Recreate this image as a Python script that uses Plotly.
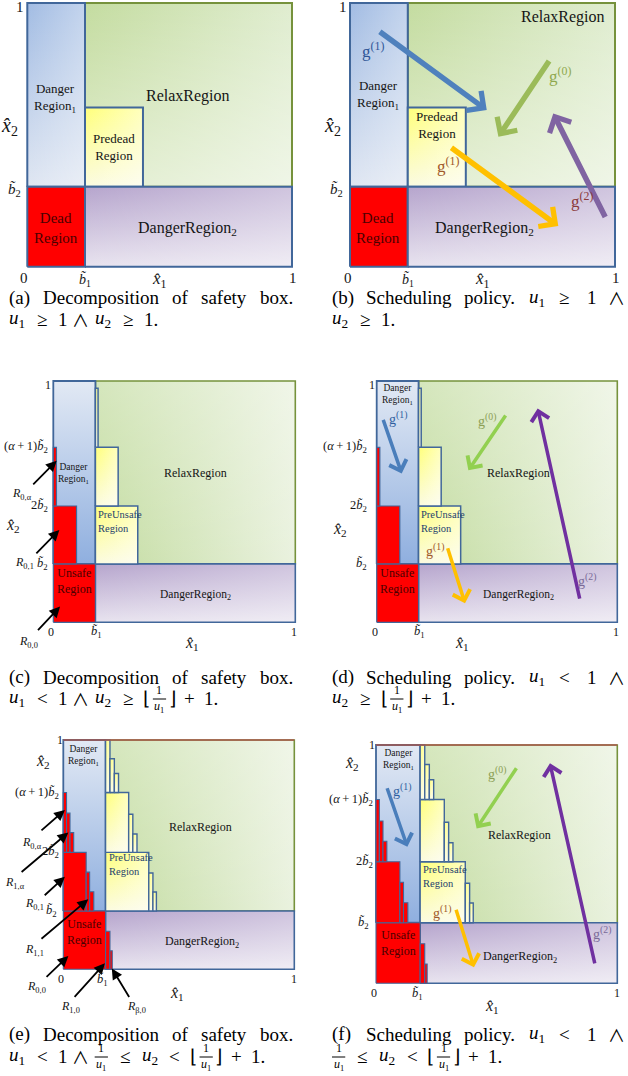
import plotly.graph_objects as go

W, H = 628, 1076
SERIF = "Liberation Serif"

# ---------------- region geometry (normalized safety-box coordinates) ----------------
# panels (a),(b)
AB_B1 = 0.218
AB_B2 = 0.303
AB_PRE_X1 = 0.437
AB_PRE_Y1 = 0.604

# panels (c),(d)
CD_B1 = 0.174
CD_B2 = 0.242
CD_RED_X1 = [0.174, 0.096, 0.013]
CD_RED_Y0 = [0.0, 0.242, 0.482]
CD_RED_Y1 = [0.242, 0.482, 0.725]
CD_YEL_X1 = [0.349, 0.268, 0.185]
CD_YEL_Y0 = [0.242, 0.482, 0.725]
CD_YEL_Y1 = [0.482, 0.725, 0.970]
CD_TICK_Y = [0.242, 0.482, 0.725]

# panels (e),(f)
EF_B1 = 0.183
EF_B2 = 0.254
EF_RED_X0 = [0.0, 0.183, 0.202, 0.0, 0.099, 0.114, 0.0, 0.014, 0.029]
EF_RED_X1 = [0.183, 0.202, 0.212, 0.099, 0.114, 0.132, 0.014, 0.029, 0.045]
EF_RED_Y0 = [0.0, 0.0, 0.0, 0.254, 0.254, 0.254, 0.51, 0.51, 0.51]
EF_RED_Y1 = [0.254, 0.166, 0.081, 0.51, 0.424, 0.338, 0.771, 0.681, 0.596]
EF_YEL_X0 = [0.183, 0.370, 0.388, 0.183, 0.283, 0.301, 0.183, 0.202, 0.221]
EF_YEL_X1 = [0.370, 0.388, 0.403, 0.283, 0.301, 0.319, 0.202, 0.221, 0.239]
EF_YEL_Y0 = [0.254, 0.254, 0.254, 0.51, 0.51, 0.51, 0.771, 0.771, 0.771]
EF_YEL_Y1 = [0.51, 0.42, 0.337, 0.771, 0.676, 0.59, 1.0, 0.918, 0.854]
EF_TICK_Y = [0.254, 0.51, 0.771]

# scheduling arrows, order: g(1) blue, g(0) green, g(2) purple, g(1) yellow
B_ARR_X0 = [0.107, 0.755, 0.966, 0.377]
B_ARR_Y0 = [0.895, 0.786, 0.183, 0.455]
B_ARR_X1 = [0.516, 0.560, 0.767, 0.786]
B_ARR_Y1 = [0.594, 0.493, 0.581, 0.154]
D_ARR_X0 = [0.025, 0.540, 0.845, 0.293]
D_ARR_Y0 = [0.845, 0.863, 0.092, 0.313]
D_ARR_X1 = [0.104, 0.381, 0.669, 0.367]
D_ARR_Y1 = [0.617, 0.630, 0.886, 0.079]
F_ARR_X0 = [0.044, 0.586, 0.908, 0.330]
F_ARR_Y0 = [0.825, 0.909, 0.077, 0.315]
F_ARR_X1 = [0.130, 0.417, 0.721, 0.406]
F_ARR_Y1 = [0.573, 0.650, 0.923, 0.067]

# pointer arrows to the R_{i,j} sub-regions
C_PTR_NAMES = ['0,α', '0,1', '0,0']
C_PTR_X0 = [-0.089, -0.076, -0.069]
C_PTR_Y0 = [0.565, 0.279, -0.039]
C_PTR_X1 = [0.014, 0.025, 0.028]
C_PTR_Y1 = [0.670, 0.383, 0.065]
E_PTR_NAMES = ['0,α', '1,α', '0,1', '1,1', '0,0', '1,0', 'β,0']
E_PTR_X0 = [-0.101, -0.187, -0.087, -0.101, -0.079, 0.043, 0.289]
E_PTR_Y0 = [0.600, 0.419, 0.317, 0.128, -0.039, -0.127, -0.127]
E_PTR_X1 = [0.007, 0.022, 0.007, 0.108, 0.022, 0.180, 0.210]
E_PTR_Y1 = [0.695, 0.597, 0.404, 0.305, 0.058, 0.026, 0.004]

# ---------------- layout helpers ----------------
# unit-square box of each panel in page pixels (left, right, top, bottom)
PANEL_PX = {1: (27.3, 292.0, 3.0, 266.7), 2: (350.0, 615.0, 3.0, 266.7),
            3: (53.3, 295.3, 381.0, 622.3), 4: (376.7, 617.3, 381.0, 622.3),
            5: (63.3, 294.3, 740.0, 969.3), 6: (376.0, 617.3, 745.0, 983.3)}
# visible area of each subplot in page pixels (left, right, top, bottom)
PANEL_VIEW = {1: (0, 312, 0, 292), 2: (318, 628, 0, 292),
              3: (0, 312, 368, 662), 4: (318, 628, 368, 662),
              5: (0, 312, 726, 1022), 6: (318, 628, 726, 1022)}

fig = go.Figure()
layout = dict(width=W, height=H, autosize=False, margin=dict(l=0, r=0, t=0, b=0, pad=0),
              paper_bgcolor='white', plot_bgcolor='rgba(0,0,0,0)', showlegend=False)
for k, (L, R, T, B) in PANEL_PX.items():
    vl, vr, vt, vb = PANEL_VIEW[k]
    w, h = R - L, B - T
    sx = '' if k == 1 else str(k)
    layout['xaxis' + sx] = dict(domain=[vl / W, vr / W], range=[(vl - L) / w, (vr - L) / w],
                                visible=False, fixedrange=True, anchor='y' + sx)
    layout['yaxis' + sx] = dict(domain=[1 - vb / H, 1 - vt / H], range=[(B - vb) / h, (B - vt) / h],
                                visible=False, fixedrange=True, anchor='x' + sx)
fig.update_layout(**layout)

annotations = []
shapes = []


def ids(k):
    s = '' if k == 1 else str(k)
    return 'x' + s, 'y' + s


def rect(k, x0, x1, y0, y1, fills, line_color=None, line_width=0.0):
    xa, ya = ids(k)
    xs = [x0, x1, x1, x0, x0]
    ys = [y0, y0, y1, y1, y0]
    for f in fills:
        kw = dict(x=xs, y=ys, xaxis=xa, yaxis=ya, mode='none', fill='toself',
                  hoverinfo='skip', showlegend=False)
        if isinstance(f, str):
            kw['fillcolor'] = f
        else:
            kw['fillgradient'] = dict(type=f[0], colorscale=[[0, f[1]], [1, f[2]]])
        fig.add_trace(go.Scatter(**kw))
    if line_color:
        fig.add_trace(go.Scatter(x=xs, y=ys, xaxis=xa, yaxis=ya, mode='lines',
                                 line=dict(color=line_color, width=line_width),
                                 hoverinfo='skip', showlegend=False))


def hline(k, x0, x1, y, color, width):
    xa, ya = ids(k)
    fig.add_trace(go.Scatter(x=[x0, x1], y=[y, y], xaxis=xa, yaxis=ya, mode='lines',
                             line=dict(color=color, width=width), hoverinfo='skip', showlegend=False))


def label(k, x, y, text, size, color='#151515', xanchor='center', align='center'):
    xa, ya = ids(k)
    annotations.append(dict(x=x, y=y, xref=xa, yref=ya, text=text, showarrow=False,
                            xanchor=xanchor, yanchor='middle', align=align,
                            font=dict(family=SERIF, size=size, color=color)))


def arrow(k, x0, y0, x1, y1, color, width, head=4, size=1.0):
    xa, ya = ids(k)
    annotations.append(dict(x=x1, y=y1, ax=x0, ay=y0, xref=xa, yref=ya, axref=xa, ayref=ya,
                            text='', showarrow=True, arrowhead=head, arrowsize=size,
                            arrowwidth=width, arrowcolor=color, standoff=0))


BLUE_LINE = '#41679a'
OLIVE_LINE = '#76923c'
D1_AB = [('vertical', '#dfe6f2', '#a2bce3'), ('horizontal', 'rgba(255,255,255,0)', 'rgba(255,255,255,0.35)')]
D1_CF = [('vertical', '#8fafdf', '#e2e9f4')]
RELAX_AB = [('horizontal', '#c4dca0', '#e0edd0'), ('vertical', 'rgba(255,255,255,0.5)', 'rgba(255,255,255,0)')]
RELAX_CF = [('horizontal', '#c3dca0', '#eaf2df'), ('vertical', 'rgba(255,255,255,0)', 'rgba(255,255,255,0.3)')]
D2 = [('vertical', '#e8e3ef', '#b6a5cd'), ('horizontal', 'rgba(255,255,255,0)', 'rgba(255,255,255,0.35)')]
YEL = [('vertical', '#fbfbe0', '#ffff7a'), ('horizontal', 'rgba(255,255,255,0)', 'rgba(255,255,255,0.5)')]
RED = ['#ff0000']
DEAD_TXT = '#4a0000'
PRE_TXT = '#253f6e'

BT1 = '<i>b\u0303</i><sub>1</sub>'
BT2 = '<i>b\u0303</i><sub>2</sub>'
X1H = '<i>x\u0302</i><sub>1</sub>'
X2H = '<i>x\u0302</i><sub>2</sub>'
ALPHA_B2 = '(<i>α</i>\u2009+\u20091)<i>b\u0303</i><sub>2</sub>'
TWO_B2 = '2<i>b\u0303</i><sub>2</sub>'
DANGER1 = 'Danger<br>Region<sub>1</sub>'
DANGER2 = 'DangerRegion<sub>2</sub>'


def g(n):
    return 'g<sup>(%d)</sup>' % n


# ---------------- panels (a),(b) ----------------
def draw_ab(k):
    rect(k, AB_B1, 1, AB_B2, 1, RELAX_AB, OLIVE_LINE, 2)
    rect(k, 0, AB_B1, AB_B2, 1, D1_AB, BLUE_LINE, 2)
    rect(k, AB_B1, AB_PRE_X1, AB_B2, AB_PRE_Y1, YEL, BLUE_LINE, 2)
    rect(k, 0, AB_B1, 0, AB_B2, RED, BLUE_LINE, 2)
    rect(k, AB_B1, 1, 0, AB_B2, D2, BLUE_LINE, 2)


draw_ab(1)
draw_ab(2)


# ---------------- panels (c),(d) ----------------
def draw_cd(k):
    rect(k, CD_B1, 1, CD_B2, 1, RELAX_CF, OLIVE_LINE, 1.6)
    rect(k, 0, CD_B1, CD_B2, 1, D1_CF, BLUE_LINE, 1.8)
    rect(k, CD_B1, 1, 0, CD_B2, D2, BLUE_LINE, 1.6)
    for x1, y0, y1 in zip(CD_YEL_X1, CD_YEL_Y0, CD_YEL_Y1):
        rect(k, CD_B1, x1, y0, y1, YEL, BLUE_LINE, 1.5)
    for x1, y0, y1 in zip(CD_RED_X1, CD_RED_Y0, CD_RED_Y1):
        rect(k, 0, x1, y0, y1, RED, BLUE_LINE, 1.2)


draw_cd(3)
draw_cd(4)


# ---------------- panels (e),(f) ----------------
def draw_ef(k):
    rect(k, EF_B1, 1, EF_B2, 1, RELAX_CF, OLIVE_LINE, 1.6)
    rect(k, 0, EF_B1, EF_B2, 1, D1_CF, BLUE_LINE, 1.8)
    rect(k, EF_B1, 1, 0, EF_B2, D2, BLUE_LINE, 1.6)
    for x0, x1, y0, y1 in zip(EF_YEL_X0, EF_YEL_X1, EF_YEL_Y0, EF_YEL_Y1):
        rect(k, x0, x1, y0, y1, YEL, BLUE_LINE, 1.4)
    for x0, x1, y0, y1 in zip(EF_RED_X0, EF_RED_X1, EF_RED_Y0, EF_RED_Y1):
        rect(k, x0, x1, y0, y1, RED, BLUE_LINE, 1.1)
    hline(k, 0, 1, 1, '#a8584c', 1.6)


draw_ef(5)
draw_ef(6)

# ---------------- texts in (a) ----------------
label(1, 0.105, 0.64, DANGER1, 13)
label(1, 0.607, 0.648, 'RelaxRegion', 16)
label(1, 0.328, 0.454, 'Predead<br>Region', 13)
label(1, 0.108, 0.147, 'Dead<br>Region', 15, DEAD_TXT)
label(1, 0.607, 0.143, DANGER2, 16)
# texts in (b)
label(2, 0.805, 0.948, 'RelaxRegion', 16)
label(2, 0.107, 0.651, DANGER1, 13)
label(2, 0.327, 0.537, 'Predead<br>Region', 13)
label(2, 0.107, 0.147, 'Dead<br>Region', 15, DEAD_TXT)
label(2, 0.509, 0.143, DANGER2, 16)

ARR_B_COL = ['#4f81bd', '#9bbb59', '#8064a2', '#ffc000']
ARR_DF_COL = ['#4a7ebb', '#92d050', '#7030a0', '#ffc000']
for x0, y0, x1, y1, c in zip(B_ARR_X0, B_ARR_Y0, B_ARR_X1, B_ARR_Y1, ARR_B_COL):
    arrow(2, x0, y0, x1, y1, c, 5.5, 4, 0.85)
label(2, 0.088, 0.822, g(1), 17, '#2f5597')
label(2, 0.792, 0.727, g(0), 17, '#8fa84e')
label(2, 0.371, 0.386, g(1), 17, '#a0582a')
label(2, 0.874, 0.253, g(2), 17, '#8b3a3a')

# ticks (a),(b)
for k, dx in ((1, 0.0), (2, 0.003)):
    label(k, -0.028 + dx, 0.985, '1', 15)
    label(k, -0.05, 0.291, BT2, 15)
    label(k, -0.066, 0.53, X2H, 20)
    label(k, -0.012 + dx, -0.043, '0', 15)
    label(k, AB_B1, -0.052, BT1, 14)
    label(k, 0.501, -0.05, X1H, 17)
    label(k, 1.004, -0.043, '1', 15)

# ---------------- texts in (c),(d) ----------------
label(3, 0.085, 0.617, DANGER1, 9.5)
label(3, 0.588, 0.617, 'RelaxRegion', 12)
label(3, CD_B1 + 0.002, 0.417, 'PreUnsafe<br>Region', 10.5, PRE_TXT, 'left', 'left')
label(3, 0.086, 0.172, 'Unsafe<br>Region', 12, DEAD_TXT)
label(3, 0.586, 0.113, DANGER2, 11.5)
for x0, y0, x1, y1 in zip(C_PTR_X0, C_PTR_Y0, C_PTR_X1, C_PTR_Y1):
    arrow(3, x0, y0, x1, y1, 'black', 1.8, 2, 1.2)
for nm, (lx, ly) in zip(C_PTR_NAMES, [(-0.131, 0.53), (-0.117, 0.247), (-0.103, -0.08)]):
    label(3, lx, ly, '<i>R</i><sub>%s</sub>' % nm, 12)

label(4, 0.086, 0.946, DANGER1, 9.5)
label(4, 0.589, 0.617, 'RelaxRegion', 12)
label(4, CD_B1 + 0.002, 0.417, 'PreUnsafe<br>Region', 10.5, PRE_TXT, 'left', 'left')
label(4, 0.086, 0.172, 'Unsafe<br>Region', 12, DEAD_TXT)
label(4, 0.589, 0.113, DANGER2, 11.5)
for x0, y0, x1, y1, c in zip(D_ARR_X0, D_ARR_Y0, D_ARR_X1, D_ARR_Y1, ARR_DF_COL):
    arrow(4, x0, y0, x1, y1, c, 3.5, 4, 1.0)
label(4, 0.09, 0.845, g(1), 14, '#2f5fa0')
label(4, 0.457, 0.838, g(0), 14, '#8ca055')
label(4, 0.242, 0.30, g(1), 14, '#a0582a')
label(4, 0.873, 0.175, g(2), 14, '#7a6a98')

for k, xr in ((3, -0.012), (4, -0.03)):
    label(k, -0.021, 0.983, '1', 12)
    for t, y in zip([BT2, TWO_B2, ALPHA_B2], CD_TICK_Y):
        label(k, xr, y, t, 12.5, xanchor='right')
    label(k, -0.008, -0.04, '0', 12)
    label(k, CD_B1 + 0.003, -0.04, BT1, 12.5)
    label(k, 0.995, -0.04, '1', 12)
label(3, 0.572, -0.087, X1H, 16)
label(3, -0.165, 0.403, X2H, 16)
label(4, 0.353, -0.086, X1H, 16)
label(4, -0.153, 0.383, X2H, 16)

# ---------------- texts in (e),(f) ----------------
label(5, 0.087, 0.933, DANGER1, 9.5)
label(5, 0.592, 0.622, 'RelaxRegion', 12)
label(5, EF_B1 + 0.004, 0.455, 'PreUnsafe<br>Region', 10.5, PRE_TXT, 'left', 'left')
label(5, 0.09, 0.164, 'Unsafe<br>Region', 12, DEAD_TXT)
label(5, 0.599, 0.12, DANGER2, 12)
for x0, y0, x1, y1 in zip(E_PTR_X0, E_PTR_Y0, E_PTR_X1, E_PTR_Y1):
    arrow(5, x0, y0, x1, y1, 'black', 1.8, 2, 1.2)
E_LBL = [(-0.137, 0.549), (-0.209, 0.375), (-0.123, 0.284), (-0.123, 0.084),
         (-0.115, -0.076), (0.029, -0.163), (0.318, -0.163)]
for nm, (lx, ly) in zip(E_PTR_NAMES, E_LBL):
    label(5, lx, ly, '<i>R</i><sub>%s</sub>' % nm, 12)

label(6, 0.092, 0.94, DANGER1, 9.5)
label(6, 0.594, 0.622, 'RelaxRegion', 12)
label(6, EF_B1 + 0.004, 0.45, 'PreUnsafe<br>Region', 10.5, PRE_TXT, 'left', 'left')
label(6, 0.092, 0.168, 'Unsafe<br>Region', 12, DEAD_TXT)
label(6, 0.597, 0.112, DANGER2, 12)
for x0, y0, x1, y1, c in zip(F_ARR_X0, F_ARR_Y0, F_ARR_X1, F_ARR_Y1, ARR_DF_COL):
    arrow(6, x0, y0, x1, y1, c, 3.5, 4, 1.0)
label(6, 0.106, 0.811, g(1), 14, '#2f5fa0')
label(6, 0.50, 0.881, g(0), 14, '#8ca055')
label(6, 0.272, 0.30, g(1), 14, '#a0582a')
label(6, 0.935, 0.21, g(2), 14, '#7a6a98')

for k, xr in ((5, -0.01), (6, -0.006)):
    label(k, -0.016, 0.998, '1', 12)
    for t, y in zip([BT2, TWO_B2, ALPHA_B2], EF_TICK_Y):
        label(k, xr if t != BT2 else -0.02, y, t, 12.5, xanchor='right')
    label(k, -0.01, -0.041, '0', 12)
    label(k, EF_B1 - 0.012, -0.045, BT1, 12.5)
    label(k, 0.998, -0.041, '1', 12)
label(5, -0.087, 0.905, X2H, 16)
label(5, 0.491, -0.105, X1H, 16)
label(6, -0.1, 0.923, X2H, 16)
label(6, 0.479, -0.098, X1H, 16)

# ---------------- captions ----------------
CAP = 19
U1 = '<i>u</i><sub>1</sub>'
U2 = '<i>u</i><sub>2</sub>'
AND_FONT = "Noto Sans CJK JP"


def cap(x, y, html, size=CAP, anchor='left', family=SERIF):
    annotations.append(dict(xref='paper', yref='paper', x=x / W, y=1 - y / H, text=html,
                            showarrow=False, xanchor=anchor, yanchor='middle',
                            font=dict(family=family, size=size, color='black')))


def math_line(x, y, toks, s=1.0):
    for t, w in toks:
        w = w * s
        if t == 'FRAC':
            cx = x + w / 2
            cap(cx, y - 8, '1', 12, 'center')
            cap(cx, y + 9, U1, 12, 'center')
            shapes.append(dict(type='line', xref='paper', yref='paper', x0=(x + 2) / W,
                               x1=(x + w - 2) / W, y0=1 - (y + 1) / H, y1=1 - (y + 1) / H,
                               line=dict(color='black', width=1)))
        elif t == '∧':
            cap(x + w / 2, y, t, 17, 'center', AND_FONT)
        elif t is not None:
            cap(x + w / 2, y, t, CAP, 'center')
        x += w


TH, MD = 5.3, 4.2
LEFT_WORDS = ['Decomposition', 'of', 'safety', 'box.']
LEFT_X = [7, 41, 170, 199, 258]
RIGHT_X = [330, 364, 462, 527, 557, 585, 606]
ROWS = [(298, 319, 'a', 'b', '≥'), (677, 698, 'c', 'd', '<'), (1034, 1056, 'e', 'f', '<')]
for y1, y2, la, lb, rel in ROWS:
    for t, x in zip(['(%s)' % la] + LEFT_WORDS, LEFT_X):
        cap(x, y1, t)
    for t, x in zip(['(%s)' % lb, 'Scheduling', 'policy.', U1, rel, '1'], RIGHT_X):
        cap(x, y1, t)
    cap(RIGHT_X[-1], y1, '∧', 17, 'left', AND_FONT)

S = 1.15
A2 = [(U1, 18), (None, TH), ('≥', 15), (None, TH), ('1', 9.5), (None, MD), ('∧', 13), (None, MD),
      (U2, 18), (None, TH), ('≥', 15), (None, TH), ('1.', 14)]
B2 = [(U2, 18), (None, TH), ('≥', 15), (None, TH), ('1.', 14)]
FLOOR = [('⌊', 7), ('FRAC', 15), ('⌋', 7), (None, MD), ('+', 15), (None, MD), ('1.', 14)]
C2 = [(U1, 18), (None, TH), ('<', 15), (None, TH), ('1', 9.5), (None, MD), ('∧', 13), (None, MD),
      (U2, 18), (None, TH), ('≥', 15), (None, TH)] + FLOOR
D2L = [(U2, 18), (None, TH), ('≥', 15), (None, TH)] + FLOOR
E2 = [(U1, 18), (None, TH), ('<', 15), (None, TH), ('1', 9.5), (None, MD), ('∧', 13), (None, MD),
      ('FRAC', 15), (None, TH), ('≤', 15), (None, TH), (U2, 18), (None, TH), ('<', 15), (None, TH)] + FLOOR
F2 = [('FRAC', 15), (None, TH), ('≤', 15), (None, TH), (U2, 18), (None, TH), ('<', 15), (None, TH)] + FLOOR
math_line(7, 319, A2, S)
math_line(330, 319, B2, S)
math_line(7, 698, C2, S)
math_line(330, 698, D2L, S)
math_line(7, 1056, E2, S)
math_line(330, 1056, F2, S)

fig.update_layout(annotations=annotations, shapes=shapes)
fig.write_html("out.html", config={'displayModeBar': False},
               post_script="document.body.style.margin='0px';")
